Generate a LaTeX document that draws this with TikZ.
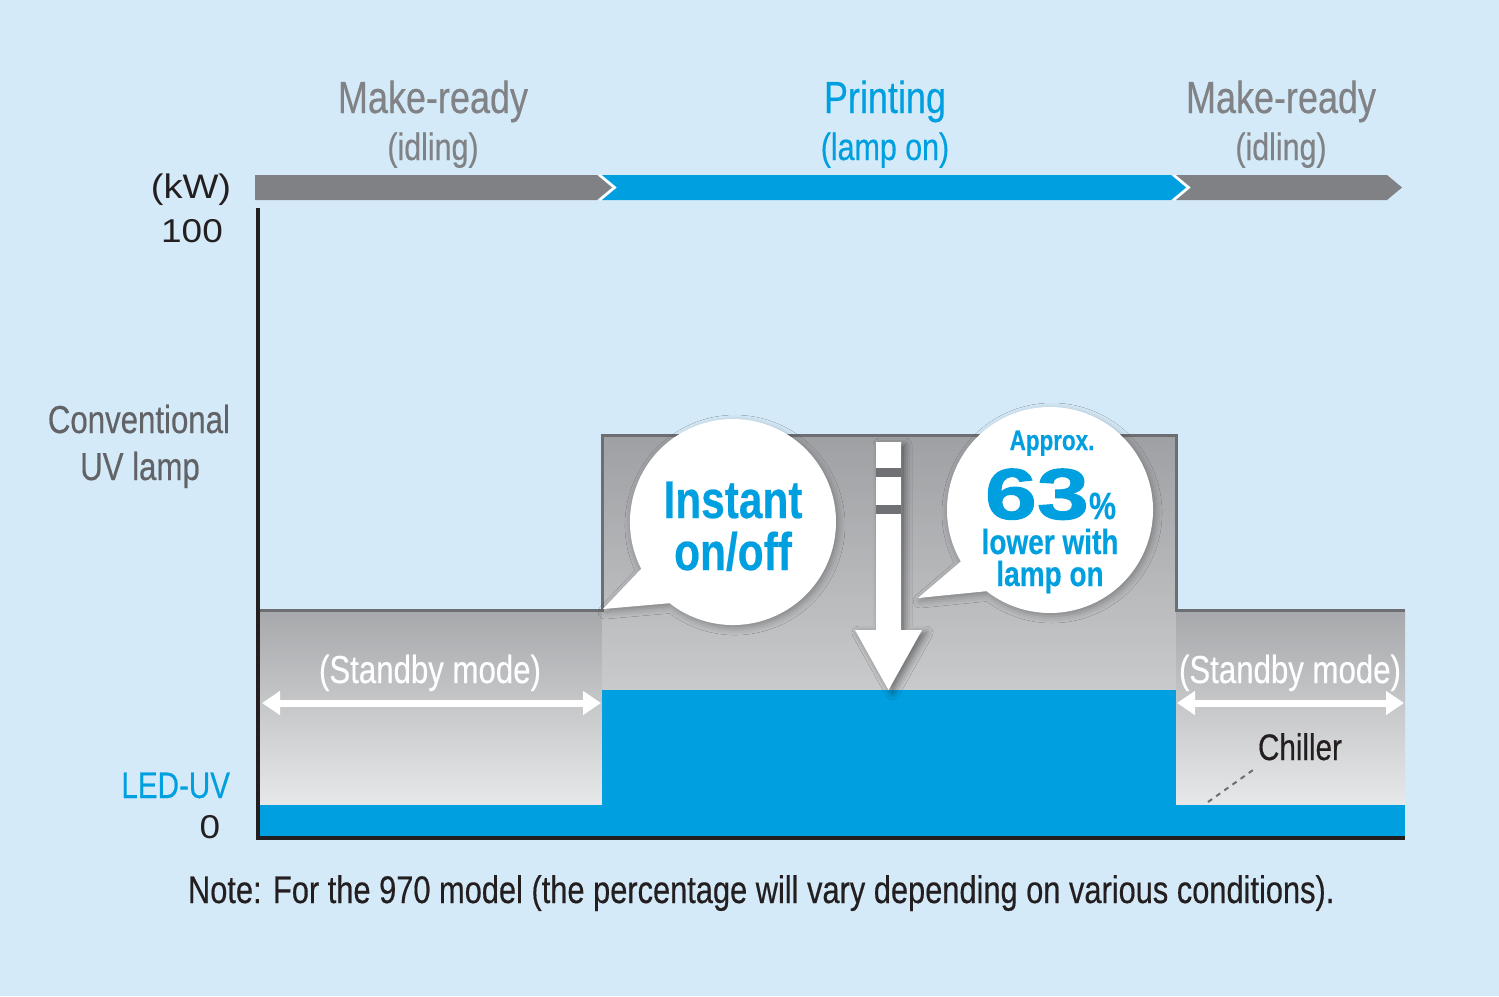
\documentclass[tikz,border=0pt]{standalone}
\usepackage{fontspec}
\setmainfont{Liberation Sans}
\newfontfamily\condf{Liberation Sans}[FakeStretch=0.8, FakeBold=0.4]
\newfontfamily\regf{Liberation Sans}[FakeStretch=1.12]
\newfontfamily\blackf{Liberation Sans}[FakeStretch=1.3, FakeBold=1.5]
\usetikzlibrary{arrows.meta, shadows.blur}
\definecolor{bgblue}{HTML}{D5EAF8}
\definecolor{uvblue}{HTML}{00A0E0}
\definecolor{bargrey}{HTML}{808184}
\definecolor{txtgrey}{HTML}{808285}
\definecolor{labgrey}{HTML}{626366}
\definecolor{edgegrey}{HTML}{6D6E71}
\definecolor{axisblack}{HTML}{231F20}
\definecolor{gtop}{HTML}{A6A8AB}
\definecolor{gbot}{HTML}{E7E8E9}
\definecolor{mtop}{HTML}{9EA0A3}
\definecolor{mbot}{HTML}{C9CACC}
\definecolor{gapgrey}{HTML}{707174}
\newcommand\fsz[1]{\fontsize{#1}{#1}\selectfont}
\begin{document}
\begin{tikzpicture}[x=1pt,y=-1pt,
  lbl/.style={inner sep=0pt, outer sep=0pt, anchor=base},
  phase/.style={lbl, txtgrey, font=\condf\fsz{45}},
  phasesub/.style={lbl, txtgrey, font=\condf\fsz{38}},
  standby/.style={lbl, white, font=\condf\fsz{39}},
  whitearrow/.style={white, line width=7pt, {Triangle[length=18pt,width=23pt]}-{Triangle[length=18pt,width=23pt]}},
  bubble/.style={fill=white, blur shadow={shadow xshift=2pt, shadow yshift=-3pt, shadow blur radius=7pt, shadow opacity=30}},
  bubtxt/.style={lbl, uvblue, font=\condf\bfseries\fsz{53}},
  edge/.style={edgegrey, line width=3pt, line join=miter},
  axis/.style={axisblack, line width=3.5pt}]
\fill[bgblue] (0,0) rectangle (1499,996);
\useasboundingbox (0,0) rectangle (1499,996);

% phase bar
\fill[bargrey] (255,175) -- (597,175) -- (612,187.5) -- (597,200) -- (255,200) -- cycle;
\fill[uvblue] (602,175) -- (1171,175) -- (1186,187.5) -- (1171,200) -- (602,200) -- (617,187.5) -- cycle;
\fill[bargrey] (1176,175) -- (1387,175) -- (1402,187.5) -- (1387,200) -- (1176,200) -- (1191,187.5) -- cycle;
\draw[white, line width=2pt] (599.5,175) -- (614.5,187.5) -- (599.5,200);
\draw[white, line width=2pt] (1173.5,175) -- (1188.5,187.5) -- (1173.5,200);

% phase labels
\node[phase] (mr1) at (433,113) {Make-ready};
\node[phasesub] (id1) at (433,160) {(idling)};
\node[phase, uvblue] (pr) at (885,113) {Printing};
\node[phasesub, uvblue] (lo) at (885,160) {(lamp on)};
\node[phase] (mr2) at (1281,113) {Make-ready};
\node[phasesub] (id2) at (1281,160) {(idling)};

% chart regions
\shade[top color=gtop, bottom color=gbot] (258,610) rectangle (602,805);
\shade[top color=mtop, bottom color=mbot] (602,435) rectangle (1176,690);
\shade[top color=gtop, bottom color=gbot] (1176,610) rectangle (1405,805);
\fill[uvblue] (258,805) rectangle (602,838);
\fill[uvblue] (602,690) rectangle (1176,838);
\fill[uvblue] (1176,805) rectangle (1405,838);
\draw[edge] (258,610) -- (602,610) -- (602,435) -- (1176,435) -- (1176,610) -- (1405,610);
\draw[axis] (258,208) -- (258,838) -- (1405,838);

% axis labels
\node[lbl, axisblack, font=\regf\fsz{34}] (kw) at (191,198) {(kW)};
\node[lbl, axisblack, font=\regf\fsz{33}] (hundred) at (192,242) {100};
\node[lbl, axisblack, font=\regf\fsz{33}] (zero) at (210,838) {0};
\node[lbl, labgrey, font=\condf\fsz{39}, anchor=base east] (conv) at (230,433) {Conventional};
\node[lbl, labgrey, font=\condf\fsz{39}] (uvl) at (140,480) {UV lamp};
\node[lbl, uvblue, font=\condf\fsz{37}, anchor=base east] (led) at (230,798) {LED-UV};

% standby arrows
\coordinate (sa1) at (262,703);
\coordinate (sb1) at (601,703);
\coordinate (sa2) at (1177,703);
\coordinate (sb2) at (1404,703);
\draw[whitearrow] (sa1) -- (sb1);
\draw[whitearrow] (sa2) -- (sb2);
\node[standby] (sm1) at (430,683) {(Standby mode)};
\node[standby] (sm2) at (1290,683) {(Standby mode)};

% chiller
\node[lbl, axisblack, font=\condf\fsz{37}] (chiller) at (1300,760) {Chiller};
\coordinate (ch0) at (1208,802);
\coordinate (ch1) at (1253,770);
\draw[edgegrey, line width=2pt, dash pattern=on 5pt off 5pt] (ch0) -- (ch1);

% down arrow
\fill[white, blur shadow={shadow xshift=4pt, shadow yshift=-3pt, shadow blur radius=7pt, shadow opacity=45}]
  (876,442) -- (901,442) -- (901,630) -- (922,630) -- (888.5,690) -- (855,630) -- (876,630) -- cycle;
\fill[gapgrey] (876,468) rectangle (901,477);
\fill[gapgrey] (876,505) rectangle (901,514);

% bubbles
\path[bubble] (603,609) -- (641.2,568.8) arc[start angle=207, end angle=-128, radius=103pt] -- cycle;
\path[bubble] (918,598) -- (960.8,561.5) arc[start angle=210, end angle=-128, radius=103pt] -- cycle;
\node[bubtxt] (inst) at (733,518) {Instant};
\node[bubtxt] (onoff) at (733,570) {on/off};
\node[lbl, uvblue, font=\condf\bfseries\fsz{28}] (apx) at (1052,450) {Approx.};
\node[lbl, uvblue, font=\blackf\bfseries\fsz{72}, anchor=base east] (sixty) at (1089,519) {63};
\node[lbl, uvblue, font=\condf\bfseries\fsz{38}, anchor=base west] (pct) at (1089,519) {\%};
\node[lbl, uvblue, font=\condf\bfseries\fsz{35}] (lw) at (1050,554) {lower with};
\node[lbl, uvblue, font=\condf\bfseries\fsz{35}] (lmp) at (1050,586) {lamp on};

% note
\node[lbl, axisblack, font=\condf\fsz{38.5}, anchor=base west] (note) at (188,903) {Note: For the 970 model (the percentage will vary depending on various conditions).};
\end{tikzpicture}
\end{document}
